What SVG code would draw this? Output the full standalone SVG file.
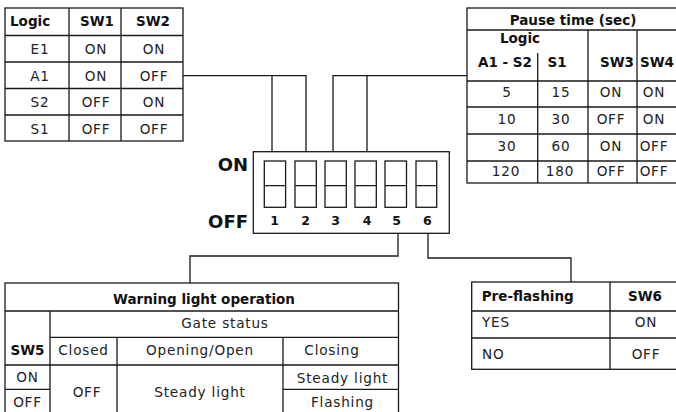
<svg xmlns="http://www.w3.org/2000/svg" width="676" height="412" viewBox="0 0 676 412">
<style>
  .ln{stroke:#1a1a1a;stroke-width:1.3;fill:none}
  .bx{stroke:#1a1a1a;stroke-width:1.3;fill:#fff}
  .b{font-family:"DejaVu Sans",sans-serif;font-weight:bold;font-size:13.5px;fill:#111}
  .r{font-family:"DejaVu Sans",sans-serif;font-size:13.6px;fill:#222;letter-spacing:0.8px}
  .c{text-anchor:middle}
  .big{font-family:"DejaVu Sans",sans-serif;font-weight:bold;font-size:18px;fill:#111;text-anchor:end}
  .num{font-family:"DejaVu Sans",sans-serif;font-weight:bold;font-size:12.5px;fill:#111;text-anchor:middle}
</style>
<rect width="676" height="412" fill="#fff"/>

<g id="connectors">
  <path class="ln" d="M183,75.7 H306 V151.7 M272,75.7 V151.7"/>
  <path class="ln" d="M467,75.7 H333 V151.7 M367,75.7 V151.7"/>
  <path class="ln" d="M398,233.3 V256 H190 V283"/>
  <path class="ln" d="M428,233.3 V258 H571 V282"/>
</g>

<g id="logic-table">
  <rect class="bx" x="5" y="8" width="178" height="133"/>
  <path class="ln" d="M69,8 V141 M121,8 V141 M5,35.5 H183 M5,62 H183 M5,88.5 H183 M5,115 H183"/>
  <text class="b" x="10" y="26">Logic</text>
  <text class="b c" x="97" y="26">SW1</text>
  <text class="b c" x="153" y="26">SW2</text>
  <text class="r c" x="40" y="54">E1</text>
  <text class="r c" x="96" y="54">ON</text>
  <text class="r c" x="154" y="54">ON</text>
  <text class="r c" x="40" y="80.5">A1</text>
  <text class="r c" x="96" y="80.5">ON</text>
  <text class="r c" x="154" y="80.5">OFF</text>
  <text class="r c" x="40" y="107">S2</text>
  <text class="r c" x="96" y="107">OFF</text>
  <text class="r c" x="154" y="107">ON</text>
  <text class="r c" x="40" y="133.5">S1</text>
  <text class="r c" x="96" y="133.5">OFF</text>
  <text class="r c" x="154" y="133.5">OFF</text>
</g>

<g id="pause-table">
  <rect class="bx" x="467" y="8" width="215" height="175"/>
  <path class="ln" d="M467,30 H682 M467,81 H682 M467,107 H682 M467,134 H682 M467,161 H682 M537.7,53 V183 M588,30 V183 M637,30 V183"/>
  <text class="b c" x="573" y="25">Pause time (sec)</text>
  <text class="b c" x="520" y="43">Logic</text>
  <text class="b c" x="505" y="67">A1 - S2</text>
  <text class="b c" x="557" y="67">S1</text>
  <text class="b c" x="617" y="67">SW3</text>
  <text class="b c" x="657" y="67">SW4</text>
  <text class="r c" x="507" y="97">5</text>
  <text class="r c" x="561" y="97">15</text>
  <text class="r c" x="611" y="97">ON</text>
  <text class="r c" x="654" y="97">ON</text>
  <text class="r c" x="507" y="124">10</text>
  <text class="r c" x="561" y="124">30</text>
  <text class="r c" x="611" y="124">OFF</text>
  <text class="r c" x="654" y="124">ON</text>
  <text class="r c" x="507" y="151">30</text>
  <text class="r c" x="561" y="151">60</text>
  <text class="r c" x="611" y="151">ON</text>
  <text class="r c" x="654" y="151">OFF</text>
  <text class="r c" x="506" y="176">120</text>
  <text class="r c" x="560" y="176">180</text>
  <text class="r c" x="611" y="176">OFF</text>
  <text class="r c" x="654" y="176">OFF</text>
</g>

<g id="dip-switch">
  <rect class="bx" x="253.3" y="151.7" width="196" height="81.6"/>
  <text class="big" x="248" y="171">ON</text>
  <text class="big" x="248" y="228">OFF</text>
  <g class="ln">
    <rect x="264.3" y="161" width="21.3" height="46.3"/>
    <rect x="295" y="161" width="21.3" height="46.3"/>
    <rect x="325" y="161" width="21.3" height="46.3"/>
    <rect x="355" y="161" width="21.3" height="46.3"/>
    <rect x="385" y="161" width="21.5" height="46.3"/>
    <rect x="416" y="161" width="20.7" height="46.3"/>
    <path d="M264.3,185.7 H285.6 M295,185.7 H316.3 M325,185.7 H346.3 M355,185.7 H376.3 M385,185.7 H406.5 M416,185.7 H436.7"/>
  </g>
  <text class="num" x="274.5" y="225">1</text>
  <text class="num" x="305.5" y="225">2</text>
  <text class="num" x="335.7" y="225">3</text>
  <text class="num" x="367" y="225">4</text>
  <text class="num" x="396.7" y="225">5</text>
  <text class="num" x="427.3" y="225">6</text>
</g>

<g id="warning-table">
  <rect class="bx" x="5" y="283" width="393.5" height="140"/>
  <path class="ln" d="M5,311 H398.5 M50,311 V423 M50,337.3 H398.5 M117,337.3 V423 M283,337.3 V423 M5,365 H398.5 M5,389.3 H50 M283,389.3 H398.5"/>
  <text class="b c" x="204" y="304">Warning light operation</text>
  <text class="r c" x="225" y="328">Gate status</text>
  <text class="b c" x="27.5" y="355">SW5</text>
  <text class="r c" x="83.5" y="355">Closed</text>
  <text class="r c" x="200" y="355">Opening/Open</text>
  <text class="r c" x="332" y="355">Closing</text>
  <text class="r c" x="27.5" y="382">ON</text>
  <text class="r c" x="27.5" y="407">OFF</text>
  <text class="r c" x="87" y="396.5">OFF</text>
  <text class="r c" x="200" y="396.5">Steady light</text>
  <text class="r c" x="342.5" y="382.5">Steady light</text>
  <text class="r c" x="342.5" y="406.5">Flashing</text>
</g>

<g id="preflash-table">
  <rect class="bx" x="471.7" y="282" width="210" height="87.3"/>
  <path class="ln" d="M471.7,311 H682 M471.7,338 H682 M610,282 V369.3"/>
  <text class="b" x="481.7" y="300.7">Pre-flashing</text>
  <text class="b c" x="645" y="300.7">SW6</text>
  <text class="r" x="482" y="327">YES</text>
  <text class="r c" x="646" y="327">ON</text>
  <text class="r" x="482" y="359">NO</text>
  <text class="r c" x="646" y="359">OFF</text>
</g>
</svg>
